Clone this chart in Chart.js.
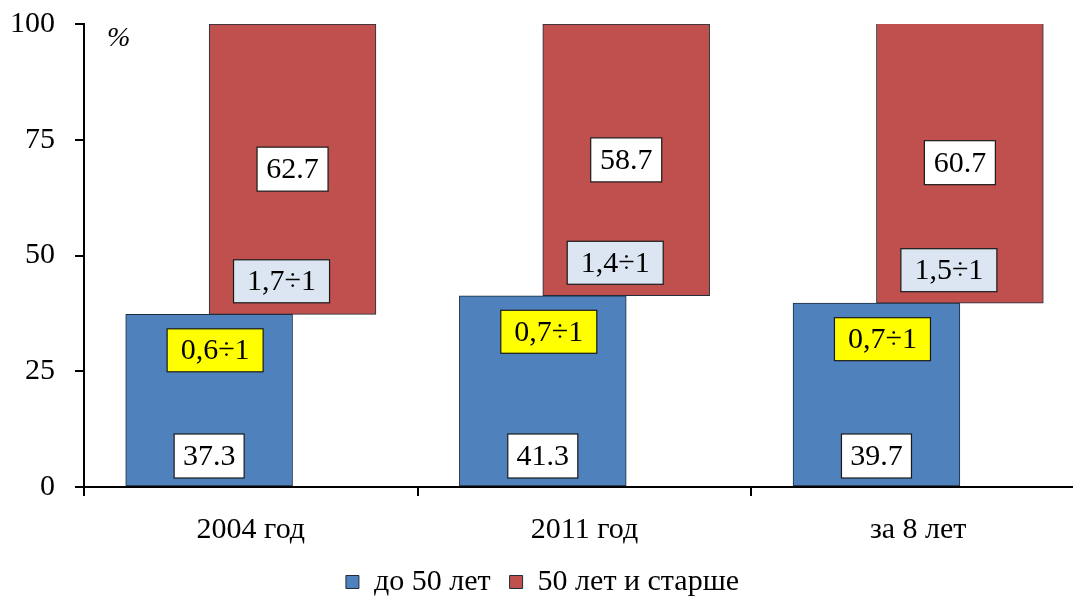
<!DOCTYPE html>
<html>
<head>
<meta charset="utf-8">
<script src="https://cdn.jsdelivr.net/npm/chart.js@4"></script>
<style>
 html, body { margin: 0; padding: 0; background: #fff; overflow: hidden; }
 #wrap { position: absolute; left: 0; top: 0; width: 1100px; height: 598px; }
</style>
</head>
<body>
<div id="wrap"><canvas id="chart"></canvas></div>
<script>
// Chart data
const categories = ["2004 год", "2011 год", "за 8 лет"];
const under50 = [37.3, 41.3, 39.7];
const over50 = [62.7, 58.7, 60.7];
const ratioUnder = ["0,6÷1", "0,7÷1", "0,7÷1"];
const ratioOver = ["1,7÷1", "1,4÷1", "1,5÷1"];
const yTicks = [0, 25, 50, 75, 100];

const FONT = "'Liberation Serif', 'Times New Roman', serif";

// Draw a boxed label centred on (x, y)
function box(ctx, text, x, y, w, h, fill) {
 ctx.fillStyle = fill;
 ctx.fillRect(x - w / 2, y - h / 2, w, h);
 ctx.strokeStyle = "#1a1a1a";
 ctx.lineWidth = 1.2;
 ctx.strokeRect(x - w / 2, y - h / 2, w, h);
 ctx.fillStyle = "#000";
 ctx.fillText(text, x, y + 1);
}

const labelPlugin = {
 id: "boxLabels",
 afterDatasetsDraw(chart) {
  const ctx = chart.ctx;
  ctx.save();
  ctx.font = "30px " + FONT;
  ctx.textAlign = "center";
  ctx.textBaseline = "middle";
  chart.getDatasetMeta(0).data.forEach((bar, i) => {
   box(ctx, under50[i].toFixed(1), bar.x, bar.base - 30, 70, 44, "#ffffff");
   box(ctx, ratioUnder[i], bar.x + 6, bar.y + 36, 96, 43, "#ffff00");
  });
  chart.getDatasetMeta(1).data.forEach((bar, i) => {
   box(ctx, over50[i].toFixed(1), bar.x, (bar.y + bar.base) / 2, 71, 44, "#ffffff");
   box(ctx, ratioOver[i], bar.x - 11, bar.base - 33, 96, 43, "#dce6f2");
  });
  // unit mark
  ctx.font = "italic 28px " + FONT;
  ctx.textAlign = "left";
  ctx.fillText("%", chart.chartArea.left + 23, chart.chartArea.top + 15);
  ctx.restore();
 },
};

const config = {
 type: "bar",
 data: {
  labels: categories,
  datasets: [
   {
    label: "до 50 лет",
    data: under50.map((v) => [0, v]),
    backgroundColor: "#4f81bd",
    borderColor: "#1f2d3d",
    borderWidth: 1,
    borderSkipped: false,
   },
   {
    label: "50 лет и старше",
    data: under50.map((v, i) => [v, v + over50[i]]),
    backgroundColor: "#c0504d",
    borderColor: "#1f2d3d",
    borderWidth: 1,
    borderSkipped: false,
   },
  ],
 },
 options: {
  responsive: true,
  maintainAspectRatio: false,
  animation: false,
  categoryPercentage: 0.5,
  barPercentage: 2,
  layout: { padding: { left: 0, right: 15, top: 24, bottom: -9 } },
  plugins: {
   tooltip: { enabled: false },
   legend: {
    position: "bottom",
    labels: {
     color: "#000",
     boxWidth: 13,
     boxHeight: 13,
     padding: 19,
     font: { family: FONT, size: 30 },
    },
   },
  },
  scales: {
   x: {
    offset: true,
    afterFit: (scale) => { scale.height = 61; },
    grid: { offset: true, drawOnChartArea: false, tickLength: 9, color: "#000", lineWidth: 2 },
    border: { color: "#000", width: 2 },
    ticks: { color: "#000", padding: 16, font: { family: FONT, size: 30 } },
   },
   y: {
    min: 0,
    max: 100,
    afterBuildTicks: (axis) => { axis.ticks = yTicks.map((v) => ({ value: v })); },
    afterFit: (scale) => { scale.width = 84; scale.paddingTop = 0; scale.paddingBottom = 0; },
    grid: { drawOnChartArea: false, tickLength: 9, color: "#000", lineWidth: 2 },
    border: { color: "#000", width: 2 },
    ticks: { color: "#000", padding: 20, font: { family: FONT, size: 30 } },
   },
  },
 },
 plugins: [labelPlugin],
};

const chart = new Chart(document.getElementById("chart"), config);
</script>
</body>
</html>
